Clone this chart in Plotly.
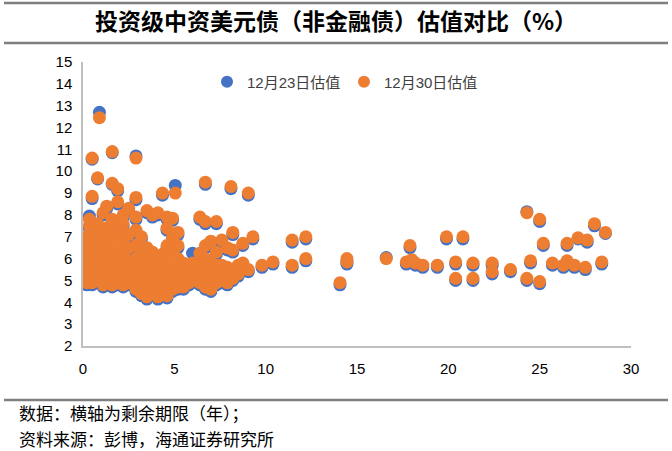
import plotly.graph_objects as go

# Remaining maturity (years) of each bond
maturity = [
    0.2, 0.2, 0.2, 0.2, 0.2, 0.2,
    0.35, 0.35, 0.35, 0.35, 0.35, 0.35, 0.35,
    0.5, 0.5, 0.5, 0.5, 0.5, 0.5, 0.5,
    0.8, 0.8, 0.8, 0.8, 0.8, 0.8,
    0.9,
    1.1, 1.1, 1.1, 1.1, 1.1, 1.1,
    1.3, 1.3, 1.3, 1.3, 1.3, 1.3,
    1.6, 1.6, 1.6, 1.6, 1.6, 1.6, 1.6, 1.6,
    1.9, 1.9, 1.9, 1.9, 1.9, 1.9, 1.9,
    2.2, 2.2, 2.2, 2.2, 2.2, 2.2, 2.2,
    2.5, 2.5, 2.5, 2.5, 2.5, 2.5,
    2.9, 2.9, 2.9, 2.9, 2.9, 2.9, 2.9, 2.9, 2.9,
    3.2, 3.2, 3.2, 3.2, 3.2, 3.2,
    3.5, 3.5, 3.5, 3.5, 3.5, 3.5, 3.5,
    3.8, 3.8, 3.8, 3.8, 3.8, 3.8,
    4.1, 4.1, 4.1, 4.1, 4.1, 4.1,
    4.35, 4.35, 4.35, 4.35, 4.35, 4.35,
    4.6, 4.6, 4.6, 4.6, 4.6, 4.6, 4.6, 4.6,
    4.9, 4.9, 4.9, 4.9, 4.9, 4.9, 4.9,
    5.05,
    5.2, 5.2, 5.2, 5.2, 5.2, 5.2,
    5.5, 5.5, 5.5, 5.5,
    5.8, 5.8, 5.8,
    6.0,
    6.2, 6.2,
    6.4, 6.4, 6.4, 6.4, 6.4,
    6.7, 6.7, 6.7, 6.7, 6.7, 6.7, 6.7,
    7.0, 7.0, 7.0, 7.0, 7.0,
    7.3, 7.3, 7.3, 7.3, 7.3,
    7.6, 7.6, 7.6, 7.6,
    7.9, 7.9, 7.9, 7.9,
    8.1,
    8.2, 8.2, 8.2, 8.2,
    8.5, 8.5,
    8.75, 8.75,
    9.05, 9.05,
    9.3,
    9.8, 10.4,
    11.45, 11.45,
    12.2, 12.2,
    14.07, 14.45, 14.45,
    16.6,
    17.9, 17.7, 18.2, 18.6, 18.0,
    19.4, 19.9,
    20.4, 20.4, 20.8,
    21.35, 21.35,
    22.4, 22.4,
    23.4,
    24.3, 24.3, 24.5,
    25.0, 25.0, 25.2,
    25.7, 26.3, 26.5, 26.5, 26.9,
    27.1, 27.5, 27.6,
    28.0, 28.4, 28.6,
]

# Valuation (%) on 12-30 (orange)
yield_1230 = [
    4.9, 5.3, 5.7, 6.1, 6.5, 7.0,
    5.1, 5.5, 5.9, 6.3, 6.8, 7.5, 7.8,
    4.9, 5.4, 6.0, 6.6, 7.2, 8.85, 10.6,
    5.0, 5.6, 6.2, 6.9, 7.6, 9.7,
    12.45,
    4.8, 5.3, 5.8, 6.4, 7.1, 8.1,
    5.0, 5.5, 6.0, 6.7, 7.4, 8.4,
    4.8, 5.2, 5.7, 6.3, 7.0, 7.8, 9.45, 10.9,
    4.9, 5.4, 6.0, 6.6, 7.3, 8.6, 9.2,
    4.8, 5.1, 5.6, 6.2, 6.9, 7.6, 8.0,
    4.9, 5.4, 5.9, 6.5, 7.1, 8.3,
    4.6, 5.0, 5.5, 6.0, 6.6, 7.3, 7.9, 8.8, 10.6,
    4.4, 4.8, 5.3, 5.8, 6.3, 7.0,
    4.25, 4.7, 5.1, 5.6, 6.1, 6.5, 8.2,
    4.5, 4.9, 5.4, 5.9, 6.3, 8.0,
    4.25, 4.6, 5.1, 5.6, 6.0, 8.1,
    4.5, 4.9, 5.3, 5.8, 6.2, 9.0,
    4.3, 4.7, 5.1, 5.6, 6.1, 6.6, 7.4, 7.9,
    4.6, 5.0, 5.4, 5.9, 6.4, 7.0, 7.85,
    9.0,
    4.7, 5.1, 5.5, 6.0, 6.6, 7.2,
    4.7, 5.0, 5.4, 5.8,
    4.9, 5.3, 5.7,
    5.8,
    5.0, 5.4,
    4.9, 5.3, 5.7, 6.25, 7.9,
    4.7, 5.1, 5.5, 6.0, 6.6, 7.7, 9.5,
    4.6, 5.0, 5.4, 5.8, 6.8,
    4.9, 5.3, 5.7, 6.3, 7.7,
    5.0, 5.4, 5.7, 6.85,
    4.9, 5.3, 5.6, 6.5,
    9.3,
    5.1, 5.5, 6.4, 7.2,
    5.3, 5.7,
    5.8, 6.7,
    5.5, 9.0,
    7.0,
    5.7, 5.85,
    6.85, 5.7,
    7.0, 6.0,
    4.9, 6.0, 5.85,
    6.0,
    6.6, 5.85, 5.8, 5.7, 5.95,
    5.7, 7.0,
    5.85, 5.1, 7.0,
    5.8, 5.1,
    5.8, 5.4,
    5.5,
    8.1, 5.1, 5.9,
    7.8, 4.95, 6.7,
    5.8, 5.7, 6.7, 5.9, 5.7,
    6.95, 5.6, 6.85,
    7.6, 5.85, 7.2,
]

# Valuation (%) on 12-23 (blue)
yield_1223 = [
    4.8, 5.2, 5.6, 6.3, 6.4, 6.9,
    5.0, 5.4, 5.8, 6.2, 6.7, 7.4, 7.95,
    4.8, 5.3, 5.9, 6.5, 7.1, 8.75, 10.55,
    4.9, 5.5, 6.1, 6.8, 7.5, 9.65,
    12.7,
    4.7, 5.2, 5.7, 6.3, 7.0, 8.0,
    4.9, 5.4, 5.9, 6.6, 7.3, 8.3,
    4.7, 5.1, 5.6, 6.2, 6.9, 7.7, 9.4, 10.85,
    4.8, 5.3, 5.9, 6.5, 7.2, 8.5, 9.1,
    4.7, 5.0, 5.5, 6.1, 6.8, 7.5, 7.9,
    4.8, 5.3, 5.8, 6.4, 7.0, 8.2,
    4.5, 4.9, 5.4, 5.9, 6.5, 7.2, 7.8, 8.7, 10.7,
    4.3, 4.7, 5.2, 5.7, 6.2, 6.9,
    4.15, 4.6, 5.0, 5.5, 6.0, 6.4, 8.1,
    4.4, 4.8, 5.3, 5.8, 6.2, 7.9,
    4.15, 4.5, 5.0, 5.5, 5.9, 8.0,
    4.4, 4.8, 5.2, 5.7, 6.1, 8.9,
    4.2, 4.6, 5.0, 5.5, 6.0, 6.5, 7.3, 7.8,
    4.5, 4.9, 5.3, 5.8, 6.3, 6.9, 7.75,
    9.35,
    4.6, 5.0, 5.4, 5.9, 6.5, 7.1,
    4.6, 4.9, 5.3, 5.7,
    4.8, 5.2, 5.6,
    6.25,
    4.9, 5.3,
    4.8, 5.2, 5.6, 6.15, 7.8,
    4.6, 5.0, 5.4, 5.9, 6.5, 7.6, 9.4,
    4.5, 4.9, 5.3, 5.7, 6.7,
    4.8, 5.2, 5.6, 6.2, 7.6,
    4.9, 5.3, 5.6, 6.75,
    4.8, 5.2, 5.5, 6.4,
    9.2,
    5.0, 5.4, 6.3, 7.1,
    5.2, 5.6,
    5.7, 6.6,
    5.4, 8.9,
    6.9,
    5.6, 5.75,
    6.75, 5.6,
    6.9, 5.9,
    4.8, 5.9, 5.75,
    6.05,
    6.5, 5.75, 5.7, 5.6, 5.9,
    5.6, 6.9,
    5.75, 5.0, 6.9,
    5.7, 5.0,
    5.7, 5.3,
    5.4,
    8.15, 5.0, 5.8,
    7.7, 4.85, 6.6,
    5.7, 5.6, 6.6, 5.8, 5.6,
    6.9, 5.5, 6.75,
    7.5, 5.75, 7.15,
]

series_names = ["12月23日估值", "12月30日估值"]
series_colors = ["#4472C4", "#ED7D31"]

title_text = "投资级中资美元债（非金融债）估值对比（%）"
note_lines = ["数据：横轴为剩余期限（年）；", "资料来源：彭博，海通证券研究所"]

x_ticks = [0, 5, 10, 15, 20, 25, 30]
y_ticks = list(range(2, 16))

W, H = 672, 451
L, R, T, B = 83, 41, 62, 105
plot_h = H - T - B
plot_w = W - L - R


def py(p):
    return (H - B - p) / plot_h


def px(p):
    return (p - L) / plot_w


fig = go.Figure()
for name, col, ys in zip(series_names, series_colors, [yield_1223, yield_1230]):
    fig.add_trace(go.Scatter(
        x=maturity, y=ys, mode="markers", name=name,
        marker=dict(color=col, size=13, line=dict(width=0)),
    ))

base_font = "Liberation Sans, Arial, Noto Sans CJK SC, sans-serif"
cjk_font = "Noto Sans CJK SC, sans-serif"

fig.update_layout(
    width=W, height=H,
    margin=dict(l=L, r=R, t=T, b=B),
    paper_bgcolor="white", plot_bgcolor="white",
    showlegend=True,
    legend=dict(
        orientation="h", x=px(207), xanchor="left", y=py(82), yanchor="middle",
        font=dict(family=base_font, size=15, color="#404040"),
        entrywidth=92, entrywidthmode="pixels",
        itemsizing="constant", bgcolor="rgba(0,0,0,0)",
    ),
    title=dict(
        text="<b>" + title_text + "</b>", x=0.5, xref="container", xanchor="center",
        y=1 - 22 / H, yref="container", yanchor="middle",
        font=dict(family=cjk_font, size=23, color="#000000"),
    ),
    xaxis=dict(
        range=[0, 30], tickvals=x_ticks, showgrid=False, zeroline=False,
        showline=True, linecolor="#BFBFBF", linewidth=1.5, ticks="",
        ticklabelstandoff=8,
        tickfont=dict(family=base_font, size=15, color="#000000"),
    ),
    yaxis=dict(
        range=[2, 15], tickvals=y_ticks, showgrid=False, zeroline=False,
        showline=True, linecolor="#BFBFBF", linewidth=1.5, ticks="",
        ticklabelstandoff=6,
        tickfont=dict(family=base_font, size=15, color="#000000"),
    ),
    shapes=[
        dict(type="line", xref="paper", yref="paper", x0=px(4), x1=px(668),
             y0=py(3), y1=py(3), line=dict(color="#7F7F7F", width=2.5)),
        dict(type="line", xref="paper", yref="paper", x0=px(4), x1=px(668),
             y0=py(43), y1=py(43), line=dict(color="#7F7F7F", width=2.5)),
        dict(type="line", xref="paper", yref="paper", x0=px(4), x1=px(668),
             y0=py(400), y1=py(400), line=dict(color="#7F7F7F", width=2.5)),
    ],
    annotations=[
        dict(text=note_lines[0], xref="paper", yref="paper", x=px(17), y=py(412),
             xanchor="left", yanchor="middle", showarrow=False,
             font=dict(family=cjk_font, size=17, color="#000000")),
        dict(text=note_lines[1], xref="paper", yref="paper", x=px(17), y=py(438),
             xanchor="left", yanchor="middle", showarrow=False,
             font=dict(family=cjk_font, size=17, color="#000000")),
    ],
)

fig.write_html(
    "out.html",
    config={"displayModeBar": False},
    post_script="document.body.style.margin='0';document.body.style.overflow='hidden';",
)
